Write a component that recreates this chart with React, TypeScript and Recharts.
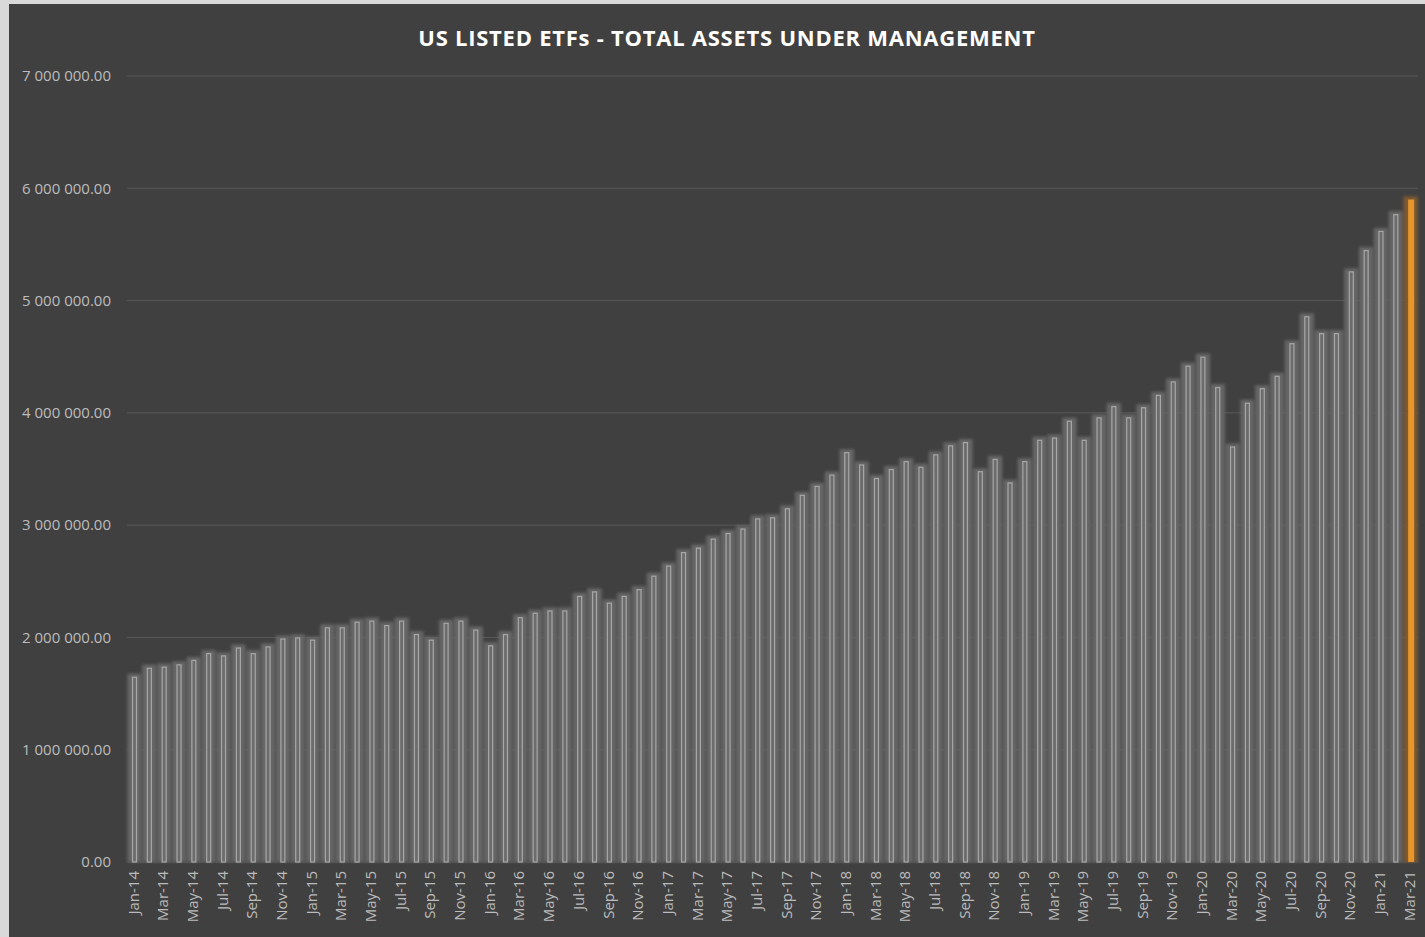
import React from 'react';
import { BarChart, Bar, XAxis, YAxis, CartesianGrid } from 'recharts';

// US listed ETFs, total AUM by month
const monthNames = ['Jan', 'Feb', 'Mar', 'Apr', 'May', 'Jun', 'Jul', 'Aug', 'Sep', 'Oct', 'Nov', 'Dec'];
const years = ['14', '15', '16', '17', '18', '19', '20', '21'];

const aum2014 = [1650000, 1730000, 1740000, 1760000, 1800000, 1860000, 1840000, 1910000, 1860000, 1920000, 1990000, 2000000];
const aum2015 = [1980000, 2090000, 2090000, 2140000, 2150000, 2110000, 2150000, 2030000, 1980000, 2130000, 2150000, 2070000];
const aum2016 = [1930000, 2030000, 2180000, 2220000, 2240000, 2240000, 2370000, 2410000, 2310000, 2370000, 2430000, 2550000];
const aum2017 = [2640000, 2760000, 2800000, 2880000, 2930000, 2970000, 3060000, 3070000, 3150000, 3270000, 3350000, 3450000];
const aum2018 = [3650000, 3540000, 3420000, 3500000, 3570000, 3520000, 3630000, 3710000, 3740000, 3480000, 3590000, 3380000];
const aum2019 = [3570000, 3760000, 3780000, 3930000, 3760000, 3960000, 4060000, 3960000, 4050000, 4160000, 4280000, 4420000];
const aum2020 = [4500000, 4230000, 3700000, 4090000, 4220000, 4330000, 4620000, 4860000, 4710000, 4710000, 5260000, 5450000];
const aum2021 = [5620000, 5770000, 5900000];

const yTicks = [0, 1000000, 2000000, 3000000, 4000000, 5000000, 6000000, 7000000];
const highlightMonth = 'Mar-21';

const byYear = [aum2014, aum2015, aum2016, aum2017, aum2018, aum2019, aum2020, aum2021];
const data = byYear.flatMap((vals, yi) =>
  vals.map((v, mi) => ({ month: `${monthNames[mi]}-${years[yi]}`, aum: v }))
);

const fmt = (v: number) =>
  `${Math.round(v).toString().replace(/\B(?=(\d{3})+(?!\d))/g, ' ')}.00`;

const GlowBar = (props: any) => {
  const { x, y, width, height, payload } = props;
  if (height == null || height <= 0) return null;
  const hot = payload && payload.month === highlightMonth;
  return (
    <g>
      <rect
        x={x - 4.6}
        y={y - 3}
        width={width + 9.2}
        height={height + 3}
        fill={hot ? '#7d5a30' : '#666666'}
        filter="url(#softGlow)"
      />
      {hot ? (
        <rect x={x} y={y} width={width + 1} height={height} fill="#e8962a" />
      ) : (
        <rect
          x={x + 0.5}
          y={y + 0.5}
          width={width - 1}
          height={height - 0.5}
          fill="#6c6c6c"
          stroke="#a8a8a8"
          strokeWidth={1.2}
        />
      )}
    </g>
  );
};

const YTick = (props: any) => {
  const { x, y, payload } = props;
  return (
    <text x={x - 8} y={y} dy="0.35em" textAnchor="end" fill="#bcbcbc" fontSize={15} fontFamily="Open Sans">
      {fmt(payload.value)}
    </text>
  );
};

const XTick = (props: any) => {
  const { x, y, payload } = props;
  return (
    <text
      transform={`translate(${x - 1},${y + 1}) rotate(-90)`}
      textAnchor="end"
      dy="0.35em"
      fill="#bcbcbc"
      fontSize={15}
      fontFamily="Open Sans"
    >
      {payload.value}
    </text>
  );
};

export default function App() {
  return (
    <div style={{ position: 'absolute', left: 0, top: 0, width: 1425, height: 937, background: '#d9d9d9', overflow: 'hidden' }}>
      <svg width={0} height={0} style={{ position: 'absolute' }}>
        <defs>
          <filter id="softGlow" x="-50%" y="-10%" width="200%" height="120%">
            <feGaussianBlur stdDeviation="1.6" />
          </filter>
        </defs>
      </svg>
      <div style={{ position: 'absolute', left: 9, top: 4, width: 1416, height: 933, background: '#404040' }}>
        <BarChart
          width={1416}
          height={933}
          data={data}
          margin={{ top: 72, right: 7, left: 0, bottom: 0 }}
          barSize={5}
        >
          <CartesianGrid vertical={false} stroke="#585858" strokeWidth={1} />
          <XAxis
            dataKey="month"
            interval={1}
            height={75}
            axisLine={false}
            tickLine={false}
            tick={<XTick />}
          />
          <YAxis
            width={118}
            domain={[0, 7000000]}
            ticks={yTicks}
            axisLine={false}
            tickLine={false}
            tick={<YTick />}
          />
          <Bar dataKey="aum" shape={<GlowBar />} isAnimationActive={false} />
        </BarChart>
      </div>
      <div
        style={{
          position: 'absolute',
          left: 227,
          top: 24,
          width: 1000,
          textAlign: 'center',
          color: '#ffffff',
          fontFamily: 'Open Sans',
          fontWeight: 700,
          fontSize: 22,
          letterSpacing: 0.75,
          lineHeight: '26px',
          whiteSpace: 'nowrap',
        }}
      >
        US LISTED ETFs - TOTAL ASSETS UNDER MANAGEMENT
      </div>
    </div>
  );
}
